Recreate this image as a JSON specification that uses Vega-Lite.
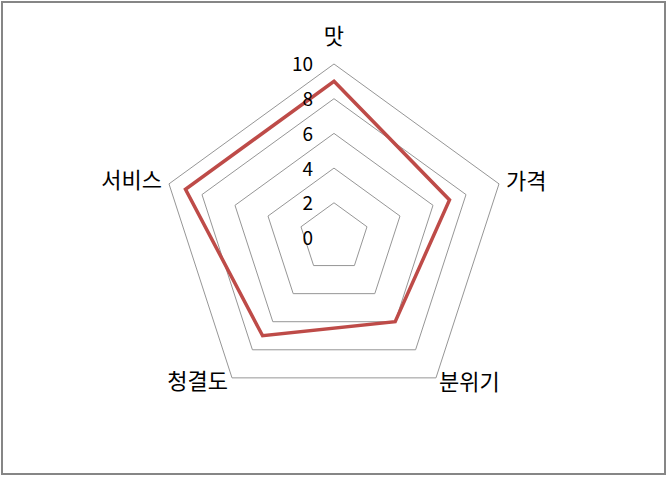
{
  "$schema": "https://vega.github.io/schema/vega-lite/v6.json",
  "width": 663,
  "height": 472,
  "autosize": {"type": "none"},
  "padding": {"left": 2, "top": 2, "right": 3, "bottom": 3},
  "background": "white",
  "config": {"view": {"stroke": "#868686", "strokeWidth": 2}, "font": "Noto Sans CJK KR"},
  "datasets": {
    "scores": [
      {"category": "맛", "idx": 0, "score": 9, "levels": [2, 4, 6, 8, 10]},
      {"category": "가격", "idx": 1, "score": 7, "levels": [2, 4, 6, 8, 10]},
      {"category": "분위기", "idx": 2, "score": 6, "levels": [2, 4, 6, 8, 10]},
      {"category": "청결도", "idx": 3, "score": 7, "levels": [2, 4, 6, 8, 10]},
      {"category": "서비스", "idx": 4, "score": 9, "levels": [2, 4, 6, 8, 10]}
    ],
    "ticks": [{"value": 0}, {"value": 2}, {"value": 4}, {"value": 6}, {"value": 8}, {"value": 10}]
  },
  "encoding": {
    "x": {"field": "px", "type": "quantitative", "scale": {"domain": [-19.135, 19.078], "nice": false, "zero": false}, "axis": null},
    "y": {"field": "py", "type": "quantitative", "scale": {"domain": [-13.631, 13.573], "nice": false, "zero": false}, "axis": null}
  },
  "layer": [
    {
      "data": {"name": "scores"},
      "transform": [
        {"flatten": ["levels"]},
        {"calculate": "datum.idx * 2 * PI / 5", "as": "a"},
        {"calculate": "datum.levels * sin(datum.a)", "as": "px"},
        {"calculate": "datum.levels * cos(datum.a)", "as": "py"}
      ],
      "mark": {"type": "line", "interpolate": "linear-closed", "stroke": "#969696", "strokeWidth": 1},
      "encoding": {"detail": {"field": "levels", "type": "nominal"}, "order": {"field": "idx", "type": "quantitative"}}
    },
    {
      "data": {"name": "scores"},
      "transform": [
        {"calculate": "datum.idx * 2 * PI / 5", "as": "a"},
        {"calculate": "datum.score * sin(datum.a)", "as": "px"},
        {"calculate": "datum.score * cos(datum.a)", "as": "py"}
      ],
      "mark": {"type": "line", "interpolate": "linear-closed", "stroke": "#BE4B48", "strokeWidth": 3.5, "strokeJoin": "miter"},
      "encoding": {"order": {"field": "idx", "type": "quantitative"}}
    },
    {
      "data": {"name": "ticks"},
      "transform": [
        {"calculate": "0", "as": "px"},
        {"calculate": "datum.value", "as": "py"}
      ],
      "mark": {"type": "text", "align": "right", "baseline": "middle", "dx": -21, "dy": 1.5, "fontSize": 19, "fill": "#000000"},
      "encoding": {"text": {"field": "value", "type": "quantitative"}}
    },
    {
      "data": {"name": "scores"},
      "transform": [
        {"filter": "datum.category == '맛'"},
        {"calculate": "datum.idx * 2 * PI / 5", "as": "a"},
        {"calculate": "10 * sin(datum.a)", "as": "px"},
        {"calculate": "10 * cos(datum.a)", "as": "py"}
      ],
      "mark": {"type": "text", "align": "center", "baseline": "middle", "dy": -27, "fontSize": 22, "fill": "#000000"},
      "encoding": {"text": {"field": "category", "type": "nominal"}}
    },
    {
      "data": {"name": "scores"},
      "transform": [
        {"filter": "datum.category == '가격'"},
        {"calculate": "datum.idx * 2 * PI / 5", "as": "a"},
        {"calculate": "10 * sin(datum.a)", "as": "px"},
        {"calculate": "10 * cos(datum.a)", "as": "py"}
      ],
      "mark": {"type": "text", "align": "left", "baseline": "middle", "dx": 7, "dy": -2, "fontSize": 22, "fill": "#000000"},
      "encoding": {"text": {"field": "category", "type": "nominal"}}
    },
    {
      "data": {"name": "scores"},
      "transform": [
        {"filter": "datum.category == '분위기'"},
        {"calculate": "datum.idx * 2 * PI / 5", "as": "a"},
        {"calculate": "10 * sin(datum.a)", "as": "px"},
        {"calculate": "10 * cos(datum.a)", "as": "py"}
      ],
      "mark": {"type": "text", "align": "left", "baseline": "middle", "dx": 3, "dy": 5, "fontSize": 22, "fill": "#000000"},
      "encoding": {"text": {"field": "category", "type": "nominal"}}
    },
    {
      "data": {"name": "scores"},
      "transform": [
        {"filter": "datum.category == '청결도'"},
        {"calculate": "datum.idx * 2 * PI / 5", "as": "a"},
        {"calculate": "10 * sin(datum.a)", "as": "px"},
        {"calculate": "10 * cos(datum.a)", "as": "py"}
      ],
      "mark": {"type": "text", "align": "right", "baseline": "middle", "dx": -4, "dy": 4, "fontSize": 22, "fill": "#000000"},
      "encoding": {"text": {"field": "category", "type": "nominal"}}
    },
    {
      "data": {"name": "scores"},
      "transform": [
        {"filter": "datum.category == '서비스'"},
        {"calculate": "datum.idx * 2 * PI / 5", "as": "a"},
        {"calculate": "10 * sin(datum.a)", "as": "px"},
        {"calculate": "10 * cos(datum.a)", "as": "py"}
      ],
      "mark": {"type": "text", "align": "right", "baseline": "middle", "dx": -7, "dy": -3, "fontSize": 22, "fill": "#000000"},
      "encoding": {"text": {"field": "category", "type": "nominal"}}
    }
  ]
}
